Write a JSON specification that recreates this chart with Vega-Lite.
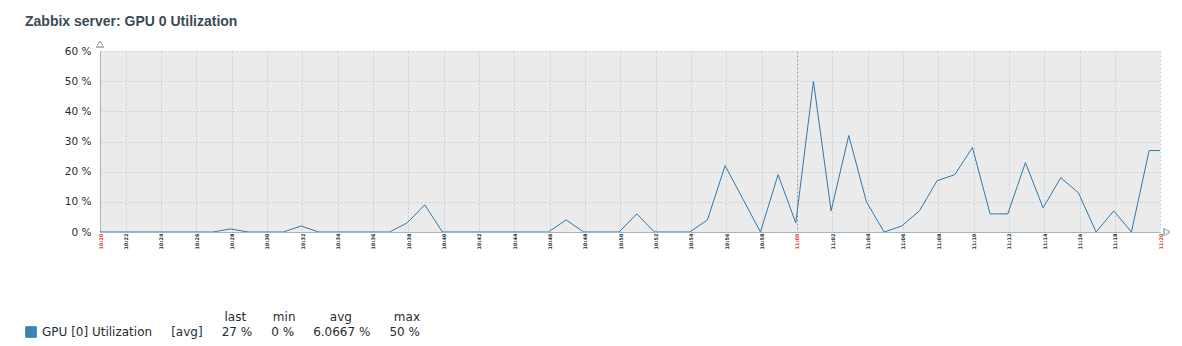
{
  "$schema": "https://vega.github.io/schema/vega-lite/v6.json",
  "width": 1060,
  "height": 181,
  "autosize": {"type": "none"},
  "padding": {"left": 100, "top": 51, "right": 22, "bottom": 114},
  "background": "#ffffff",
  "config": {
    "view": {"fill": "#ebebeb", "stroke": null},
    "font": "DejaVu Sans"
  },
  "title": {
    "text": "Zabbix server: GPU 0 Utilization",
    "anchor": "start",
    "font": "Liberation Sans",
    "fontSize": 14,
    "fontWeight": "bold",
    "color": "#3a4b57",
    "dx": 0,
    "offset": 10
  },
  "data": {
    "values": [
      {"time": "2024-05-14T10:20:33Z", "value": 0},
      {"time": "2024-05-14T10:20:56Z", "value": 0},
      {"time": "2024-05-14T10:21:56Z", "value": 0},
      {"time": "2024-05-14T10:22:56Z", "value": 0},
      {"time": "2024-05-14T10:23:56Z", "value": 0},
      {"time": "2024-05-14T10:24:56Z", "value": 0},
      {"time": "2024-05-14T10:25:56Z", "value": 0},
      {"time": "2024-05-14T10:26:56Z", "value": 0},
      {"time": "2024-05-14T10:27:56Z", "value": 1},
      {"time": "2024-05-14T10:28:56Z", "value": 0},
      {"time": "2024-05-14T10:29:56Z", "value": 0},
      {"time": "2024-05-14T10:30:56Z", "value": 0},
      {"time": "2024-05-14T10:31:56Z", "value": 2},
      {"time": "2024-05-14T10:32:56Z", "value": 0},
      {"time": "2024-05-14T10:33:56Z", "value": 0},
      {"time": "2024-05-14T10:34:56Z", "value": 0},
      {"time": "2024-05-14T10:35:56Z", "value": 0},
      {"time": "2024-05-14T10:36:56Z", "value": 0},
      {"time": "2024-05-14T10:37:56Z", "value": 3},
      {"time": "2024-05-14T10:38:56Z", "value": 9},
      {"time": "2024-05-14T10:39:56Z", "value": 0},
      {"time": "2024-05-14T10:40:56Z", "value": 0},
      {"time": "2024-05-14T10:41:56Z", "value": 0},
      {"time": "2024-05-14T10:42:56Z", "value": 0},
      {"time": "2024-05-14T10:43:56Z", "value": 0},
      {"time": "2024-05-14T10:44:56Z", "value": 0},
      {"time": "2024-05-14T10:45:56Z", "value": 0},
      {"time": "2024-05-14T10:46:56Z", "value": 4},
      {"time": "2024-05-14T10:47:56Z", "value": 0},
      {"time": "2024-05-14T10:48:56Z", "value": 0},
      {"time": "2024-05-14T10:49:56Z", "value": 0},
      {"time": "2024-05-14T10:50:56Z", "value": 6},
      {"time": "2024-05-14T10:51:56Z", "value": 0},
      {"time": "2024-05-14T10:52:56Z", "value": 0},
      {"time": "2024-05-14T10:53:56Z", "value": 0},
      {"time": "2024-05-14T10:54:56Z", "value": 4},
      {"time": "2024-05-14T10:55:56Z", "value": 22},
      {"time": "2024-05-14T10:56:56Z", "value": 11},
      {"time": "2024-05-14T10:57:56Z", "value": 0},
      {"time": "2024-05-14T10:58:56Z", "value": 19},
      {"time": "2024-05-14T10:59:56Z", "value": 3},
      {"time": "2024-05-14T11:00:56Z", "value": 50},
      {"time": "2024-05-14T11:01:56Z", "value": 7},
      {"time": "2024-05-14T11:02:56Z", "value": 32},
      {"time": "2024-05-14T11:03:56Z", "value": 10},
      {"time": "2024-05-14T11:04:56Z", "value": 0},
      {"time": "2024-05-14T11:05:56Z", "value": 2},
      {"time": "2024-05-14T11:06:56Z", "value": 7},
      {"time": "2024-05-14T11:07:56Z", "value": 17},
      {"time": "2024-05-14T11:08:56Z", "value": 19},
      {"time": "2024-05-14T11:09:56Z", "value": 28},
      {"time": "2024-05-14T11:10:56Z", "value": 6},
      {"time": "2024-05-14T11:11:56Z", "value": 6},
      {"time": "2024-05-14T11:12:56Z", "value": 23},
      {"time": "2024-05-14T11:13:56Z", "value": 8},
      {"time": "2024-05-14T11:14:56Z", "value": 18},
      {"time": "2024-05-14T11:15:56Z", "value": 13},
      {"time": "2024-05-14T11:16:56Z", "value": 0},
      {"time": "2024-05-14T11:17:56Z", "value": 7},
      {"time": "2024-05-14T11:18:56Z", "value": 0},
      {"time": "2024-05-14T11:19:56Z", "value": 27},
      {"time": "2024-05-14T11:20:33Z", "value": 27}
    ]
  },
  "encoding": {
    "x": {
      "field": "time",
      "type": "temporal",
      "scale": {"type": "utc", "domain": [1715682033000, 1715685633000]},
      "axis": {
        "title": null,
        "values": [1715682033000, 1715682120000, 1715682240000, 1715682360000, 1715682480000, 1715682600000, 1715682720000, 1715682840000, 1715682960000, 1715683080000, 1715683200000, 1715683320000, 1715683440000, 1715683560000, 1715683680000, 1715683800000, 1715683920000, 1715684040000, 1715684160000, 1715684280000, 1715684400000, 1715684520000, 1715684640000, 1715684760000, 1715684880000, 1715685000000, 1715685120000, 1715685240000, 1715685360000, 1715685480000, 1715685633000],
        "labelExpr": "utcFormat(datum.value, '%H:%M')",
        "labelAngle": -90,
        "labelFontSize": 5,
        "labelFontWeight": "bold",
        "labelPadding": 1,
        "labelOverlap": false,
        "labelFlush": false,
        "labelColor": {
          "condition": {"test": "time(datum.value) == 1715682033000 || time(datum.value) == 1715684400000 || time(datum.value) == 1715685633000", "value": "#e0373a"},
          "value": "#26343c"
        },
        "ticks": false,
        "domainColor": "#a7b4bd",
        "domainWidth": 1,
        "grid": true,
        "gridDash": [2, 2],
        "gridColor": {
          "condition": {"test": "time(datum.value) == 1715684400000", "value": "#8e9ea9"},
          "value": "#c6cfd6"
        },
        "gridWidth": 1
      }
    },
    "y": {
      "field": "value",
      "type": "quantitative",
      "scale": {"domain": [0, 60], "nice": false, "zero": true},
      "axis": {
        "title": null,
        "values": [0, 10, 20, 30, 40, 50, 60],
        "labelExpr": "datum.value + ' %'",
        "labelFontSize": 10.5,
        "labelColor": "#1f2c33",
        "labelPadding": 9,
        "ticks": false,
        "domainColor": "#a7b4bd",
        "domainWidth": 1,
        "grid": true,
        "gridDash": [2, 2],
        "gridColor": "#c6cfd6",
        "gridWidth": 1
      }
    }
  },
  "layer": [
    {
      "mark": {"type": "line", "strokeWidth": 1, "clip": true},
      "encoding": {
        "color": {
          "datum": "GPU [0] Utilization",
          "scale": {"range": ["#2f78ab"]},
          "legend": {
            "orient": "none",
            "legendX": -75,
            "legendY": 261,
            "padding": 0,
            "symbolType": "square",
            "symbolSize": 110,
            "symbolStrokeWidth": 1,
            "labelFont": "DejaVu Sans",
            "labelFontSize": 12,
            "labelColor": "#1f2c33",
            "labelLimit": 1000,
            "labelOffset": 5,
            "labelExpr": "datum.label + '\u00a0\u00a0\u00a0\u00a0\u00a0[avg]\u00a0\u00a0\u00a0\u00a0\u00a027 %\u00a0\u00a0\u00a0\u00a0\u00a00 %\u00a0\u00a0\u00a0\u00a0\u00a06.0667 %\u00a0\u00a0\u00a0\u00a0\u00a050 %'",
            "title": "last\u00a0\u00a0\u00a0\u00a0\u00a0\u00a0\u00a0min\u00a0\u00a0\u00a0\u00a0\u00a0\u00a0\u00a0\u00a0\u00a0avg\u00a0\u00a0\u00a0\u00a0\u00a0\u00a0\u00a0\u00a0\u00a0\u00a0\u00a0max\u00a0",
            "titleAnchor": "end",
            "titleFont": "DejaVu Sans",
            "titleFontSize": 12,
            "titleFontWeight": "normal",
            "titleColor": "#1f2c33",
            "titlePadding": 2,
            "titleLimit": 1000,
            "encode": {
              "symbols": {"update": {"fill": {"value": "#3d84b6"}, "stroke": {"value": "#23323b"}, "opacity": {"value": 1}, "strokeWidth": {"value": 1}}}
            }
          }
        }
      }
    },
    {
      "mark": {"type": "point", "shape": "triangle-up", "filled": true, "fill": "#ffffff", "stroke": "#a7b4bd", "strokeWidth": 1, "size": 40, "opacity": 1, "yOffset": -7, "clip": false},
      "encoding": {
        "x": {"datum": {"year": 2024, "month": 5, "date": 14, "hours": 10, "minutes": 20, "seconds": 33, "utc": true}, "type": "temporal"},
        "y": {"datum": 60, "type": "quantitative"}
      }
    },
    {
      "mark": {"type": "point", "shape": "triangle-right", "filled": true, "fill": "#ffffff", "stroke": "#a7b4bd", "strokeWidth": 1, "size": 40, "opacity": 1, "xOffset": 7, "clip": false},
      "encoding": {
        "x": {"datum": {"year": 2024, "month": 5, "date": 14, "hours": 11, "minutes": 20, "seconds": 33, "utc": true}, "type": "temporal"},
        "y": {"datum": 0, "type": "quantitative"}
      }
    }
  ]
}
